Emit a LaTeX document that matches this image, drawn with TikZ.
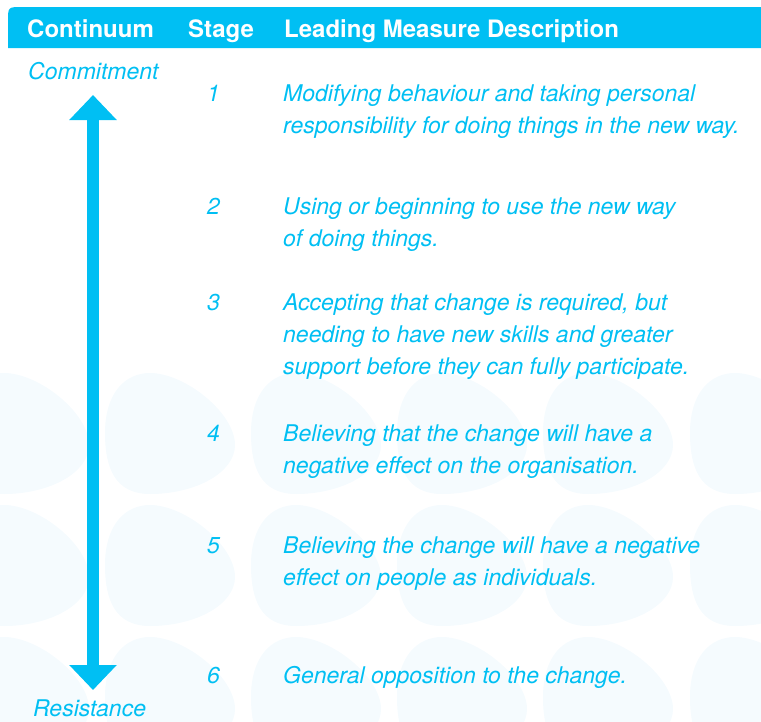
\documentclass[tikz,border=0pt]{standalone}
\usepackage{fontspec}
\setmainfont{TeX Gyre Heros}
\usetikzlibrary{arrows.meta}
\definecolor{brandcyan}{RGB}{0,191,243}
\definecolor{pebblegrey}{RGB}{245,251,254}
\tikzstyle{headtext}=[anchor=base west,inner sep=0,text=white,font=\fontsize{24}{28}\selectfont\bfseries]
\tikzstyle{bodytext}=[anchor=base west,inner sep=0,text=brandcyan,align=left,font=\fontsize{23}{32}\selectfont\itshape]
\tikzstyle{bigarrow}=[draw=brandcyan,line width=12pt,{Triangle[length=25pt,width=46pt]}-{Triangle[length=25pt,width=46pt]}]

\begin{document}
\begin{tikzpicture}[x=1pt,y=-1pt]
  \useasboundingbox (0,0) rectangle (761,721);
  \clip (0,0) rectangle (761,721);

  % pale pebbles behind the lower rows
  \foreach \row in {373,505,637}
    \foreach \col in {-41,105,251,397,543,690}
      \fill[pebblegrey,shift={(\col,\row)}] (0,60) .. controls (0,20) and (20,0) .. (45,0)
        .. controls (80,0) and (130,40) .. (130,72)
        .. controls (130,100) and (90,121) .. (45,121)
        .. controls (10,121) and (0,95) .. (0,60) -- cycle;

  % header bar
  \fill[brandcyan] (761,48) -- (8,48) -- (8,21) .. controls (8,7) .. (22,7) -- (761,7) -- cycle;
  \node[headtext] (hcont) at (27,37) {Continuum};
  \node[headtext] (hstage) at (188,37) {Stage};
  \node[headtext] (hdesc) at (284,37) {Leading Measure Description};

  % the continuum
  \node[bodytext] (commit) at (28,79) {Commitment};
  \node[bodytext] (resist) at (33,716) {Resistance};
  \coordinate (uptip) at (93,95);
  \coordinate (downtip) at (93,690);
  \draw[bigarrow] (uptip) -- (downtip);

  % stages (second y is the baseline of the last line)
  \foreach \n/\y/\ylast/\txt in {
      1/101/133/{Modifying behaviour and taking personal\\responsibility for doing things in the new way.},
      2/214/246/{Using or beginning to use the new way\\of doing things.},
      3/310/374/{Accepting that change is required, but\\needing to have new skills and greater\\support before they can fully participate.},
      4/441/473/{Believing that the change will have a\\negative effect on the organisation.},
      5/553/585/{Believing the change will have a negative\\effect on people as individuals.},
      6/683/683/{General opposition to the change.}} {
    \node[bodytext] (s\n) at (207,\y) {\n};
    \node[bodytext] (d\n) at (283,\ylast) {\txt};
  }
\end{tikzpicture}
\end{document}
